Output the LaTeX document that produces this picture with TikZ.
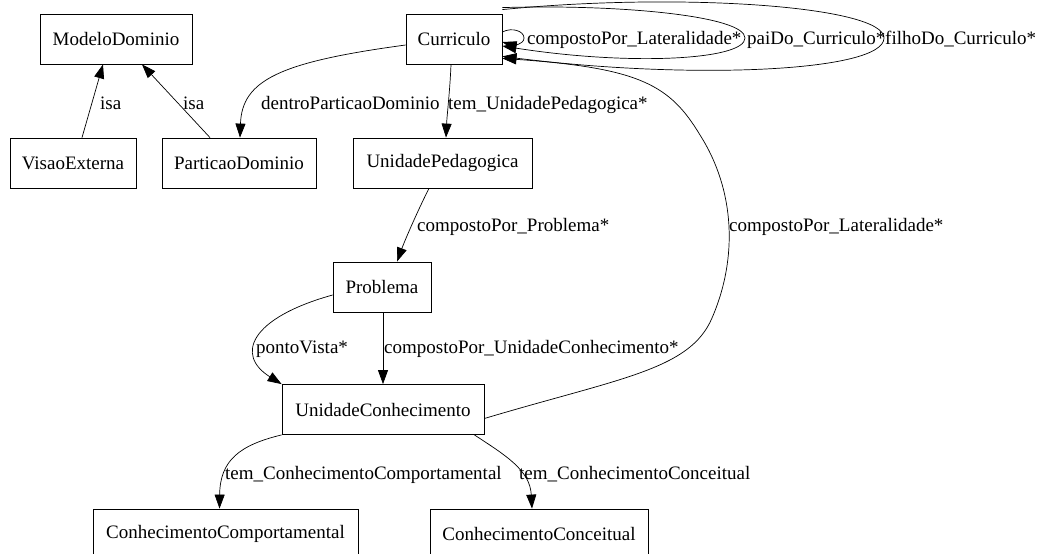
\documentclass[tikz,border=0pt]{standalone}
\usepackage{fontspec}
\setmainfont{Liberation Serif}
\usetikzlibrary{arrows.meta}
\begin{document}
\begin{tikzpicture}[x=1pt,y=-1pt,
  every node/.style={font=\fontsize{19}{22}\selectfont},
  cls/.style={draw,line width=0.8pt,minimum height=50pt,inner sep=0pt},
  lbl/.style={anchor=base west,inner sep=0pt},
  rel/.style={line width=0.7pt,-{Triangle[length=14pt,width=10pt]}}]
\useasboundingbox (0,0) rectangle (1039,554);
\clip (0,0) rectangle (1039,554);
\fill[white] (0,0) rectangle (1039,554);

% classes
\node[cls,minimum width=152pt] (md)  at (116,39)    {ModeloDominio};
\node[cls,minimum width=96pt]  (cur) at (454,39)    {Curriculo};
\node[cls,minimum width=126pt] (ve)  at (73,163)    {VisaoExterna};
\node[cls,minimum width=154pt] (pd)  at (239,163)   {ParticaoDominio};
\node[cls,minimum width=179pt] (up)  at (442.5,163) {UnidadePedagogica};
\node[cls,minimum width=98pt]  (pr)  at (382,287)   {Problema};
\node[cls,minimum width=202pt] (uc)  at (383,409.5) {UnidadeConhecimento};
\node[cls,minimum width=265pt] (cc)  at (225.5,534) {ConhecimentoComportamental};
\node[cls,minimum width=218pt] (ccn) at (539,534)   {ConhecimentoConceitual};

% generalisation
\draw[rel] ([xshift=9pt]ve.north) -- ([xshift=-13pt]md.south);
\node[lbl] (l1) at (100,109) {isa};
\draw[rel] ([xshift=-29pt]pd.north) -- ([xshift=26pt]md.south);
\node[lbl] (l2) at (183,109) {isa};

% Curriculo
\draw[rel] ([yshift=-6pt]cur.west) .. controls (280,62) and (242,80) .. ([xshift=1pt]pd.north);
\node[lbl] (l3) at (261,109) {dentroParticaoDominio};
\draw[rel] ([xshift=-3pt]cur.south) .. controls (450,90) and (447,115) .. ([xshift=3.5pt]up.north);
\node[lbl] (l4) at (448,109) {tem\_UnidadePedagogica*};

% self loops on Curriculo
\draw[rel] ([yshift=7pt]cur.east) .. controls (512,27) and (524,31) .. (524,38)
  .. controls (524,45) and (512,45) .. ([yshift=-3pt]cur.east);
\node[lbl] (l5) at (527,44) {compostoPor\_Lateralidade*};
\draw[rel] ([yshift=6pt]cur.north east) .. controls (620,4) and (745,16) .. (745,38)
  .. controls (745,60) and (630,66) .. ([yshift=-7pt]cur.east);
\node[lbl] (l6) at (747,44) {paiDo\_Curriculo*};
\draw[rel] ([yshift=4pt]cur.north east) .. controls (680,-8) and (884,6) .. (884,38)
  .. controls (884,72) and (690,80) .. ([yshift=8pt]cur.south east);
\node[lbl] (l7) at (885,44) {filhoDo\_Curriculo*};

% UnidadePedagogica / Problema
\draw[rel] ([xshift=-13.5pt]up.south) .. controls (418,210) and (405,240) .. ([xshift=15pt]pr.north);
\node[lbl] (l8) at (417,231) {compostoPor\_Problema*};
\draw[rel] ([xshift=1pt]pr.south) -- ([xshift=0pt]uc.north);
\node[lbl] (l9) at (384,353) {compostoPor\_UnidadeConhecimento*};
\draw[rel] ([yshift=-8pt]pr.west) .. controls (250,318) and (235,355) .. (uc.north west);
\node[lbl] (l10) at (256,353) {pontoVista*};

% UnidadeConhecimento back to Curriculo
\draw[rel] ([yshift=-9pt]uc.east) .. controls (620,378) and (690,370) .. (712,318)
  .. controls (738,258) and (735,190) .. (700,135)
  .. controls (670,85) and (640,68) .. ([yshift=6pt]cur.south east);
\node[lbl] (l11) at (729,231) {compostoPor\_Lateralidade*};

% knowledge kinds
\draw[rel] (uc.south west) .. controls (240,445) and (220,460) .. ([xshift=-6pt]cc.north);
\node[lbl] (l12) at (225,479) {tem\_ConhecimentoComportamental};
\draw[rel] ([xshift=-10pt]uc.south east) .. controls (505,455) and (530,470) .. ([xshift=-7pt]ccn.north);
\node[lbl] (l13) at (519,479) {tem\_ConhecimentoConceitual};
\end{tikzpicture}
\end{document}
